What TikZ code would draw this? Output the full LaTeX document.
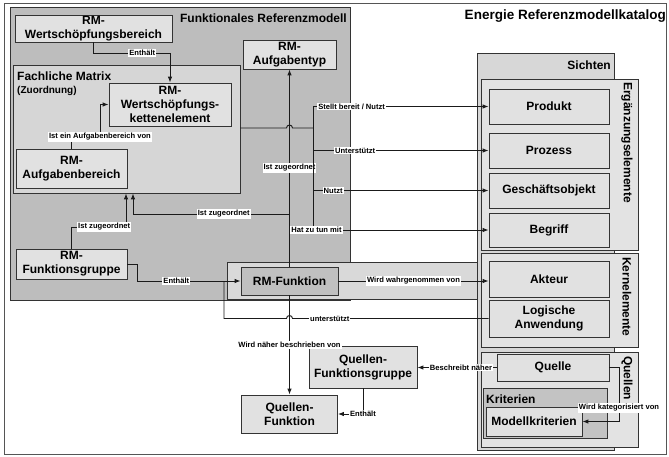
\documentclass[tikz,border=0pt]{standalone}
\usepackage{fontspec}
\setmainfont{Liberation Sans}
\usetikzlibrary{arrows,arrows.meta,positioning}

\definecolor{regiongrey}{HTML}{BDBDBD}
\definecolor{matrixgrey}{HTML}{D6D6D6}
\definecolor{boxgrey}{HTML}{E1E1E1}
\definecolor{stripgrey}{HTML}{D9D9D9}
\definecolor{funcgrey}{HTML}{C0C0C0}
\definecolor{viewgrey}{HTML}{D7D7D7}
\definecolor{groupgrey}{HTML}{E3E3E3}
\definecolor{critgrey}{HTML}{C3C3C3}
\definecolor{bordergrey}{HTML}{333333}
\definecolor{linegrey}{HTML}{1A1A1A}
\definecolor{framegrey}{HTML}{555555}

\begin{document}
\begin{tikzpicture}[x=1pt,y=-1pt,
    sz/.style 2 args={minimum width=#1pt, minimum height=#2pt},
    area/.style={draw=bordergrey, line width=0.8pt, inner sep=0pt},
    box/.style={area, fill=boxgrey, align=center,
        font=\bfseries\fontsize{12}{14}\selectfont},
    title/.style={inner sep=0pt, font=\bfseries\fontsize{12}{14}\selectfont},
    conn/.style={draw=linegrey, line width=0.9pt},
    arr/.style={conn, -{Latex[length=6pt, width=4.5pt]}},
    lbl/.style={fill=white, inner sep=1pt, font=\bfseries\fontsize{7.6}{8}\selectfont}]

\useasboundingbox (0,0) rectangle (669,456);
\draw[framegrey, line width=1pt] (4,3) rectangle (666,454);

% functional reference model
\node[area, fill=regiongrey, sz={340}{293}] (frm) at (180,153.5) {};
\node[title, anchor=east] (frmtitle) at (347,18) {Funktionales Referenzmodell};
\node[title, anchor=east, font=\bfseries\fontsize{13.5}{15}\selectfont] (cattitle) at (666,16) {Energie Referenzmodellkatalog};

\node[box, sz={157}{27}] (wsb) at (93.5,28.5) {RM-\\Wertschöpfungsbereich};
\node[box, sz={93}{29}] (atyp) at (289.5,54.5) {RM-\\Aufgabentyp};

\node[area, fill=matrixgrey, sz={227}{128}] (fm) at (126.5,129) {};
\node[title, anchor=west] (fmtitle) at (17,76) {Fachliche Matrix};
\node[title, anchor=west, font=\bfseries\fontsize{10}{12}\selectfont] (fmsub) at (17,91) {(Zuordnung)};
\node[box, sz={122}{43}] (wke) at (170,104.5) {RM-\\Wertschöpfungs-\\kettenelement};
\node[box, sz={111}{39}] (ab) at (71.5,168.5) {RM-\\Aufgabenbereich};

\node[box, sz={111}{30}] (fg) at (71.5,264) {RM-\\Funktionsgruppe};
\node[area, fill=stripgrey, sz={250}{37}] (strip) at (352,280.5) {};
\node[box, fill=funcgrey, sz={97}{28}] (rmf) at (289.5,281) {RM-Funktion};

\node[box, sz={108}{42}] (qfg) at (363,367) {Quellen-\\Funktionsgruppe};
\node[box, sz={96}{38}] (qf) at (289.5,414) {Quellen-\\Funktion};

% views
\node[area, fill=viewgrey, sz={137}{397}] (sichten) at (545.5,251.5) {};
\node[title, anchor=east] (sichtentitle) at (611,65) {Sichten};

\node[area, fill=groupgrey, sz={157}{171}] (erg) at (559.5,164.5) {};
\node[title, rotate=-90, anchor=west] (ergtitle) at (627,82) {Ergänzungselemente};
\node[box, sz={120}{35}] (produkt) at (549,106.5) {Produkt};
\node[box, sz={120}{35}] (prozess) at (549,150.5) {Prozess};
\node[box, sz={120}{35}] (gobj) at (549,190.5) {Geschäftsobjekt};
\node[box, sz={120}{34}] (begriff) at (549,230) {Begriff};

\node[area, fill=groupgrey, sz={157}{94}] (kern) at (559.5,300) {};
\node[title, rotate=-90, anchor=west] (kerntitle) at (627,257) {Kernelemente};
\node[box, sz={120}{36}] (akteur) at (549,279) {Akteur};
\node[box, sz={120}{37}] (logan) at (549,318.5) {Logische\\Anwendung};

\node[area, fill=groupgrey, sz={157}{95}] (quellen) at (559.5,399.5) {};
\node[title, rotate=-90, anchor=west] (quellentitle) at (627,356) {Quellen};
\node[box, sz={112}{27}] (quelle) at (553,367.5) {Quelle};
\node[area, fill=critgrey, sz={124}{50}] (krit) at (545,413) {};
\node[title, anchor=west] (krittitle) at (486,399) {Kriterien};
\node[box, sz={96}{29}] (mkrit) at (534,421.5) {Modellkriterien};

% connectors
\draw[arr] (wsb.south -| 93,0) -- (93,53) -| node[lbl, pos=0.32] {Enthält} (wke.north);
\draw[arr] (ab.north) |- node[lbl, pos=1] {Ist ein Aufgabenbereich von} (100,137) |- (wke.west);
\draw[arr] (fg.north) |- node[lbl, pos=0.8] {Ist zugeordnet} (126,227) -- (fm.south -| 126,0);
\draw[arr] (rmf.north) -- node[lbl] {Ist zugeordnet} (atyp.south);
\draw[arr] (rmf.north |- 0,214) -| node[lbl, pos=0.21] {Ist zugeordnet} (fm.south -| 133,0);

\coordinate (trunk) at (313,128);
\draw[conn] (fm.east |- trunk) -- (286.5,128) arc[start angle=180, end angle=0, radius=3pt] -- (trunk);
\draw[conn] (produkt.west -| trunk) -- (begriff.west -| trunk);
\draw[arr] (produkt.west -| trunk) -- node[lbl, pos=0.22] {Stellt bereit / Nutzt} (produkt.west);
\draw[arr] (prozess.west -| trunk) -- node[lbl, pos=0.24] {Unterstützt} (prozess.west);
\draw[arr] (gobj.west -| trunk) -- node[lbl, pos=0.115] {Nutzt} (gobj.west);
\draw[arr] (begriff.west -| trunk) -- node[lbl, pos=0.02] {Hat zu tun mit} (begriff.west);

\draw[arr] (fg.east) -- (137,264) |- node[lbl, pos=0.69] {Enthält} (rmf.west);
\draw[conn] (rmf.west -| 224,0) -- (logan.west -| 224,0) -- (286.5,318.5)
    arc[start angle=180, end angle=0, radius=3pt]
    -- node[lbl, pos=0.19] {unterstützt} (logan.west);
\draw[arr] (rmf.east) -- node[lbl] {Wird wahrgenommen von} (rmf.east -| akteur.west);
\draw[arr] (rmf.south) -- node[lbl] {Wird näher beschrieben von} (qf.north);

\draw[arr] (quelle.west) -- node[lbl, pos=0.45] {Beschreibt näher} (quelle.west -| qfg.east);
\draw[arr] (qfg.south) |- node[lbl] {Enthält} (qf.east);
\draw[arr] (quelle.east) -- (619,367.5) |- node[lbl, pos=0.375] {Wird kategorisiert von} (mkrit.east);

\end{tikzpicture}
\end{document}
